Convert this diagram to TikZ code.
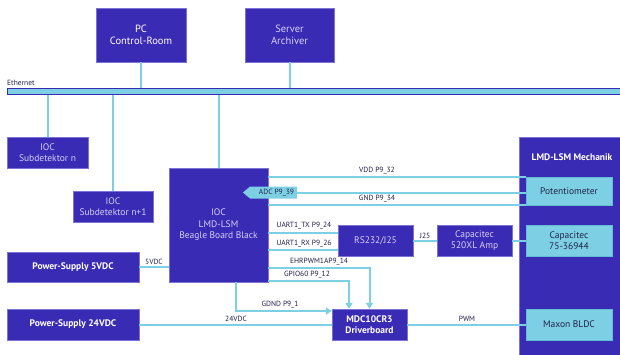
\documentclass[tikz,border=0pt]{standalone}
\usepackage{fontspec}
\setmainfont{PT Sans}
\usetikzlibrary{positioning,arrows.meta,shapes.symbols,calc}
\definecolor{DeepIndigo}{HTML}{3A2BB4}
\definecolor{EdgeLilac}{HTML}{7B72D6}
\definecolor{SkyCyan}{HTML}{7DD0E3}
\definecolor{CyanEdge}{HTML}{62BDD3}
\definecolor{PaleLilac}{HTML}{D4D0F5}
\definecolor{InkNavy}{HTML}{22204A}

\begin{document}
\begin{tikzpicture}[x=1pt, y=-1pt,
  blk/.style  = {draw=EdgeLilac, fill=DeepIndigo, text=white, align=center,
                 font=\fontsize{9.5}{11.5}\selectfont\bfseries, inner sep=0pt},
  dim/.style  = {blk, text=PaleLilac, font=\fontsize{9.5}{11.5}\selectfont},
  part/.style = {draw=CyanEdge, fill=SkyCyan, text=InkNavy, align=center,
                 font=\fontsize{9.5}{11.5}\selectfont, inner sep=0pt},
  link/.style = {draw=SkyCyan, line width=2pt},
  sig/.style  = {link, -{Triangle[width=7pt,length=6pt]}},
  lbl/.style  = {font=\fontsize{7.5}{8}\selectfont, text=InkNavy, inner sep=0pt}
]
  \useasboundingbox[fill=white] (0,0) rectangle (620,354);

  % network side
  \node[blk, font=\fontsize{10.5}{12.5}\selectfont, minimum width=90pt, minimum height=54pt]
    (pc) at (141,35) {PC\\Control-Room};
  \node[dim, font=\fontsize{10.5}{12.5}\selectfont, minimum width=89pt, minimum height=54pt]
    (arch) at (289.5,35) {Server\\Archiver};
  \node[draw=DeepIndigo, fill=SkyCyan, line width=1.2pt, minimum width=618pt,
        minimum height=6pt, inner sep=0pt, anchor=west] (eth) at (7,91.5) {};
  \node[lbl, anchor=south west] (ethlbl) at (7,86) {Ethernet};

  \node[dim, minimum width=81pt, minimum height=31pt] (iocn) at (47.5,152.5) {IOC\\Subdetektor n};
  \node[dim, minimum width=80pt, minimum height=31pt] (iocm) at (113,206.5) {IOC\\Subdetektor n+1};
  \node[dim, minimum width=99pt, minimum height=114pt] (bbb) at (218.5,225)
    {IOC\\LMD-LSM\\Beagle Board Black};

  \foreach \n in {pc,arch}{
    \draw[link] (\n.south) -- (\n.south |- eth.north);
  }
  \foreach \n in {iocn,iocm,bbb}{
    \draw[link] (\n.north) -- (\n.north |- eth.south);
  }

  % power and driver
  \node[blk, minimum width=132pt, minimum height=30pt] (ps5) at (73,267) {Power-Supply 5VDC};
  \node[blk, minimum width=132pt, minimum height=31pt] (ps24) at (73,324.5) {Power-Supply 24VDC};
  \node[blk, minimum width=75pt, minimum height=31pt] (mdc) at (369.5,324.5) {MDC10CR3\\Driverboard};
  \node[dim, minimum width=75pt, minimum height=31pt] (rs) at (375.5,240.5) {RS232/J25};
  \node[dim, minimum width=75pt, minimum height=31pt] (amp) at (474.5,240.5) {Capacitec\\520XL Amp};

  % mechanics
  \node[blk, minimum width=106pt, minimum height=222pt, anchor=north west] (mech) at (519,137) {};
  \node[blk, draw=none, fill=none] (mechlbl) at (572,157) {LMD-LSM Mechanik};
  \node[part, minimum width=86pt, minimum height=28pt] (pot) at (569,191) {Potentiometer};
  \node[part, minimum width=86pt, minimum height=31pt] (cap) at (569,240.5) {Capacitec\\75-36944};
  \node[part, minimum width=86pt, minimum height=31pt] (maxon) at (569,324.5) {Maxon BLDC};

  \draw[link] (bbb.east |- pot.north) -- (pot.north west);
  \draw[link] (bbb.east |- pot.south) -- (pot.south west);
  \node[signal, signal to=west, signal pointer angle=80, fill=SkyCyan, text=InkNavy,
        font=\fontsize{7.5}{8}\selectfont, inner sep=0pt, minimum width=54pt,
        minimum height=12pt] (adc) at (273.5,192.5) {\hspace*{6pt}ADC P9\_39};
  \draw[link] (adc.east) -- (pot.west |- adc.east);

  \draw[link] (rs.west) ++(0,-7.5) coordinate (tx) -- (tx -| bbb.east);
  \draw[link] (rs.west) ++(0,9.5) coordinate (rx) -- (rx -| bbb.east);
  \draw[link] (rs.east) -- (amp.west);
  \draw[link] (amp.east) -- (cap.west);

  \draw[sig] (bbb.east |- 0,268) -| (mdc.north);
  \draw[sig] (bbb.east |- 0,281) -| ([xshift=-20.5pt]mdc.north);
  \draw[sig] ([xshift=17.5pt]bbb.south) |- ([yshift=13.5pt]mdc.west);
  \draw[link] (ps5.east) -- (bbb.west |- ps5.east);
  \draw[link] (ps24.east) -- (mdc.west);
  \draw[link] (mdc.east) -- (maxon.west);

  \foreach \nm/\x/\y/\t in {vdd/377/171/VDD P9\_32, gnd/377/199/GND P9\_34,
      utx/304/226/UART1\_TX P9\_24, urx/304/244/UART1\_RX P9\_26,
      ehr/319/262/EHRPWM1AP9\_14, gpio/307/275/GPIO60 P9\_12,
      jlbl/425/236/J25, vfive/154/262/5VDC, gdnd/280/305/GDND P9\_1,
      vtwf/236/319/24VDC, pwm/467/319/PWM}{
    \node[lbl] (\nm) at (\x,\y) {\t};
  }
\end{tikzpicture}
\end{document}
